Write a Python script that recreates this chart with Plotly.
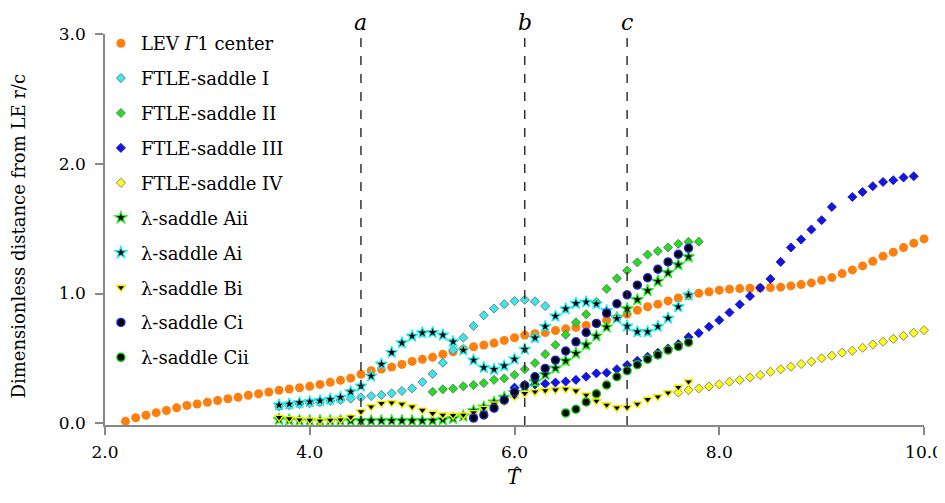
import plotly.graph_objects as go

# ---------------- data ----------------
lev_T = [2.2, 2.3, 2.4, 2.5, 2.6, 2.7, 2.8, 2.9, 3.0, 3.1,
         3.2, 3.3, 3.4, 3.5, 3.6, 3.7, 3.8, 3.9, 4.0, 4.1,
         4.2, 4.3, 4.4, 4.5, 4.6, 4.7, 4.8, 4.9, 5.0, 5.1,
         5.2, 5.3, 5.4, 5.5, 5.6, 5.7, 5.8, 5.9, 6.0, 6.1,
         6.2, 6.3, 6.4, 6.5, 6.6, 6.7, 6.8, 6.9, 7.0, 7.1,
         7.2, 7.3, 7.4, 7.5, 7.6, 7.7, 7.8, 7.9, 8.0, 8.1,
         8.2, 8.3, 8.4, 8.5, 8.6, 8.7, 8.8, 8.9, 9.0, 9.1,
         9.2, 9.3, 9.4, 9.5, 9.6, 9.7, 9.8, 9.9, 10.0]
lev_v = [0.015, 0.043, 0.062, 0.082, 0.099, 0.119, 0.137, 0.149, 0.162, 0.176,
         0.189, 0.200, 0.216, 0.228, 0.241, 0.254, 0.264, 0.274, 0.285, 0.300,
         0.316, 0.331, 0.348, 0.378, 0.405, 0.418, 0.433, 0.454, 0.477, 0.493,
         0.510, 0.533, 0.551, 0.572, 0.590, 0.603, 0.618, 0.639, 0.659, 0.680,
         0.690, 0.699, 0.715, 0.728, 0.739, 0.754, 0.770, 0.795, 0.813, 0.841,
         0.872, 0.898, 0.918, 0.943, 0.966, 0.984, 1.002, 1.014, 1.026, 1.034,
         1.038, 1.041, 1.043, 1.046, 1.049, 1.059, 1.069, 1.082, 1.103, 1.123,
         1.154, 1.182, 1.213, 1.249, 1.288, 1.319, 1.354, 1.388, 1.421]

ftle1_T = [3.7, 3.8, 3.9, 4.0, 4.1, 4.2, 4.3, 4.4, 4.5, 4.6,
           4.7, 4.8, 4.9, 5.0, 5.1, 5.2, 5.3, 5.4, 5.5, 5.6,
           5.7, 5.8, 5.9, 6.0, 6.1, 6.2, 6.3]
ftle1_v = [0.130, 0.138, 0.148, 0.155, 0.163, 0.172, 0.180, 0.190, 0.200, 0.210,
           0.218, 0.231, 0.249, 0.269, 0.318, 0.380, 0.467, 0.564, 0.660, 0.751,
           0.832, 0.885, 0.918, 0.942, 0.952, 0.940, 0.904]

ftle2_T = [5.2, 5.3, 5.4, 5.5, 5.6, 5.7, 5.8, 5.9, 6.0, 6.1,
           6.2, 6.3, 6.4, 6.5, 6.6, 6.7, 6.8, 6.9, 7.0, 7.1,
           7.2, 7.3, 7.4, 7.5, 7.6, 7.7, 7.8]
ftle2_v = [0.243, 0.262, 0.267, 0.285, 0.295, 0.310, 0.335, 0.346, 0.374, 0.416,
           0.465, 0.533, 0.605, 0.683, 0.778, 0.840, 0.937, 1.036, 1.117, 1.177,
           1.240, 1.300, 1.327, 1.355, 1.383, 1.399, 1.400]

ftle3_T = [6.0, 6.1, 6.2, 6.3, 6.4, 6.5, 6.6, 6.7, 6.8, 6.9,
           7.0, 7.1, 7.2, 7.3, 7.4, 7.5, 7.6, 7.7, 7.8, 7.9,
           8.0, 8.1, 8.2, 8.3, 8.4, 8.5, 8.6, 8.7, 8.8, 8.9,
           9.0, 9.1, 9.3, 9.4, 9.5, 9.6, 9.7, 9.8, 9.9]
ftle3_v = [0.275, 0.290, 0.300, 0.305, 0.315, 0.322, 0.335, 0.359, 0.385, 0.390,
           0.417, 0.449, 0.482, 0.513, 0.543, 0.577, 0.610, 0.664, 0.695, 0.744,
           0.795, 0.854, 0.916, 0.980, 1.044, 1.113, 1.244, 1.355, 1.416, 1.493,
           1.565, 1.667, 1.744, 1.783, 1.827, 1.860, 1.873, 1.894, 1.904]

ftle4_T = [7.6, 7.7, 7.8, 7.9, 8.0, 8.1, 8.2, 8.3, 8.4, 8.5,
           8.6, 8.7, 8.8, 8.9, 9.0, 9.1, 9.2, 9.3, 9.4, 9.5,
           9.6, 9.7, 9.8, 9.9, 10.0]
ftle4_v = [0.237, 0.256, 0.269, 0.284, 0.300, 0.320, 0.333, 0.354, 0.372, 0.397,
           0.416, 0.436, 0.457, 0.475, 0.501, 0.521, 0.544, 0.559, 0.582, 0.608,
           0.628, 0.651, 0.674, 0.697, 0.718]

lam_T = [3.7, 3.8, 3.9, 4.0, 4.1, 4.2, 4.3, 4.4, 4.5, 4.6,
         4.7, 4.8, 4.9, 5.0, 5.1, 5.2, 5.3, 5.4, 5.5, 5.6,
         5.7, 5.8, 5.9, 6.0, 6.1, 6.2, 6.3, 6.4, 6.5, 6.6,
         6.7, 6.8, 6.9, 7.0, 7.1, 7.2, 7.3, 7.4, 7.5, 7.6, 7.7]
aii_v = [0.030, 0.025, 0.022, 0.020, 0.020, 0.020, 0.020, 0.020, 0.020, 0.020,
         0.020, 0.020, 0.020, 0.020, 0.020, 0.022, 0.028, 0.038, 0.056, 0.097,
         0.125, 0.163, 0.200, 0.235, 0.280, 0.320, 0.375, 0.425, 0.481, 0.539,
         0.605, 0.673, 0.742, 0.813, 0.883, 0.953, 1.023, 1.094, 1.160, 1.222, 1.283]
ai_v = [0.141, 0.149, 0.159, 0.166, 0.174, 0.185, 0.200, 0.243, 0.287, 0.364,
        0.456, 0.546, 0.620, 0.672, 0.697, 0.700, 0.680, 0.628, 0.564, 0.487,
        0.430, 0.416, 0.443, 0.495, 0.571, 0.658, 0.746, 0.826, 0.882, 0.924,
        0.935, 0.920, 0.867, 0.808, 0.749, 0.705, 0.705, 0.746, 0.810, 0.898, 0.988]
bi_v = [0.046, 0.036, 0.028, 0.025, 0.020, 0.025, 0.028, 0.048, 0.090, 0.128,
        0.154, 0.159, 0.149, 0.128, 0.102, 0.077, 0.064, 0.062, 0.064, 0.082,
        0.115, 0.149, 0.166, 0.205, 0.231, 0.243, 0.253, 0.258, 0.264, 0.250,
        0.218, 0.172, 0.141, 0.120, 0.123, 0.149, 0.185, 0.205, 0.236, 0.278, 0.320]

ci_T = [5.6, 5.7, 5.8, 5.9, 6.0, 6.1, 6.2, 6.3, 6.4, 6.5,
        6.6, 6.7, 6.8, 6.9, 7.0, 7.1, 7.2, 7.3, 7.4, 7.5, 7.6, 7.7]
ci_v = [0.040, 0.064, 0.117, 0.179, 0.241, 0.292, 0.359, 0.423, 0.487, 0.557,
        0.628, 0.700, 0.770, 0.849, 0.921, 0.990, 1.065, 1.122, 1.187, 1.244, 1.303, 1.350]

cii_T = [6.5, 6.6, 6.7, 6.8, 6.9, 7.0, 7.1, 7.2, 7.3, 7.4, 7.5, 7.6, 7.7]
cii_v = [0.080, 0.108, 0.164, 0.228, 0.295, 0.359, 0.405, 0.451, 0.494, 0.526, 0.564, 0.592, 0.624]

event_T = [4.5, 6.1, 7.1]
event_labels = ["a", "b", "c"]

x_ticks = [2.0, 4.0, 6.0, 8.0, 10.0]
y_ticks = [0.0, 1.0, 2.0, 3.0]

# ---------------- figure ----------------
FONT = "DejaVu Serif"
fig = go.Figure()

series = [
    ("LEV <i>Γ</i>1 center", lev_T, lev_v, "circle", 9, "#ff7f0e", "#ff7f0e", 0),
    ("FTLE-saddle I", ftle1_T, ftle1_v, "diamond", 7, "#3ce6ee", "#666666", 0.8),
    ("FTLE-saddle II", ftle2_T, ftle2_v, "diamond", 7, "#22dd22", "#666666", 0.8),
    ("FTLE-saddle III", ftle3_T, ftle3_v, "diamond", 7, "#1414e6", "#1010a0", 0.8),
    ("FTLE-saddle IV", ftle4_T, ftle4_v, "diamond", 7, "#ffff14", "#666666", 0.8),
    ("λ-saddle Aii", lam_T, aii_v, "star", 9, "#000000", "#22ee22", 1.2),
    ("λ-saddle Ai", lam_T, ai_v, "star", 9, "#000000", "#22eeee", 1.2),
    ("λ-saddle Bi", lam_T, bi_v, "triangle-down", 8, "#000000", "#f0f000", 1.4),
    ("λ-saddle Ci", ci_T, ci_v, "circle", 8, "#000000", "#2020ee", 1.4),
    ("λ-saddle Cii", cii_T, cii_v, "circle", 8, "#000000", "#10c010", 1.4),
]

for i, (name, xs, ys, sym, size, fill, edge, ew) in enumerate(series):
    fig.add_trace(go.Scatter(
        x=xs, y=ys, mode="markers", name=name, legendgroup=f"g{i}",
        cliponaxis=False,
        marker=dict(symbol=sym, size=size, color=fill,
                    line=dict(color=edge, width=ew)),
    ))

for t, lab in zip(event_T, event_labels):
    fig.add_shape(type="line", xref="x", yref="paper", x0=t, x1=t, y0=0.0, y1=1.0,
                  line=dict(color="#333333", width=1.5, dash="dash"))
    fig.add_annotation(x=t, xref="x", y=1.0, yref="paper", yshift=12,
                       text=f"<i>{lab}</i>", showarrow=False,
                       font=dict(family=FONT, size=22, color="black"),
                       xanchor="center", yanchor="middle")

# x-axis title: T with a hat
fig.add_annotation(x=0.5, xref="paper", y=0, yref="paper", yshift=-52,
                   text="<i>T</i>", showarrow=False,
                   font=dict(family=FONT, size=20, color="black"),
                   xanchor="center", yanchor="middle")
fig.add_annotation(x=0.5, xref="paper", xshift=2, y=0, yref="paper", yshift=-47,
                   text="^", showarrow=False,
                   font=dict(family=FONT, size=12, color="black"),
                   xanchor="center", yanchor="middle")
fig.add_annotation(x=0, xref="paper", xshift=-87, y=0.5, yref="paper", yshift=-7,
                   text="Dimensionless distance from LE r/c", showarrow=False,
                   textangle=-90,
                   font=dict(family=FONT, size=18, color="black"),
                   xanchor="center", yanchor="middle")

axis_common = dict(showline=True, linecolor="#888888", linewidth=1.5,
                   ticks="outside", ticklen=8, tickwidth=1.5, tickcolor="#888888",
                   showgrid=False, zeroline=False, automargin=False,
                   tickfont=dict(family=FONT, size=17, color="black"))

fig.update_xaxes(range=[2.0, 10.0], tickvals=x_ticks,
                 ticktext=[f"{v:.1f}" for v in x_ticks],
                 ticklabelstandoff=3, **axis_common)
fig.update_yaxes(range=[-0.013, 3.0], tickvals=y_ticks,
                 ticktext=[f"{v:.1f}" for v in y_ticks],
                 ticklabelstandoff=6, **axis_common)

# the page body has an 8px margin, so the figure is sized to end at 945x503
fig.update_layout(
    width=937, height=495,
    margin=dict(l=97, r=21, t=26, b=78),
    paper_bgcolor="white", plot_bgcolor="white",
    font=dict(family=FONT, size=18, color="black"),
    showlegend=True,
    legend=dict(x=-0.005, y=1.023, xanchor="left", yanchor="top",
                bgcolor="rgba(0,0,0,0)", borderwidth=0,
                font=dict(family=FONT, size=18, color="black"),
                traceorder="grouped", tracegroupgap=8.5,
                itemsizing="trace", maxheight=480),
)

fig.write_html("out.html")
